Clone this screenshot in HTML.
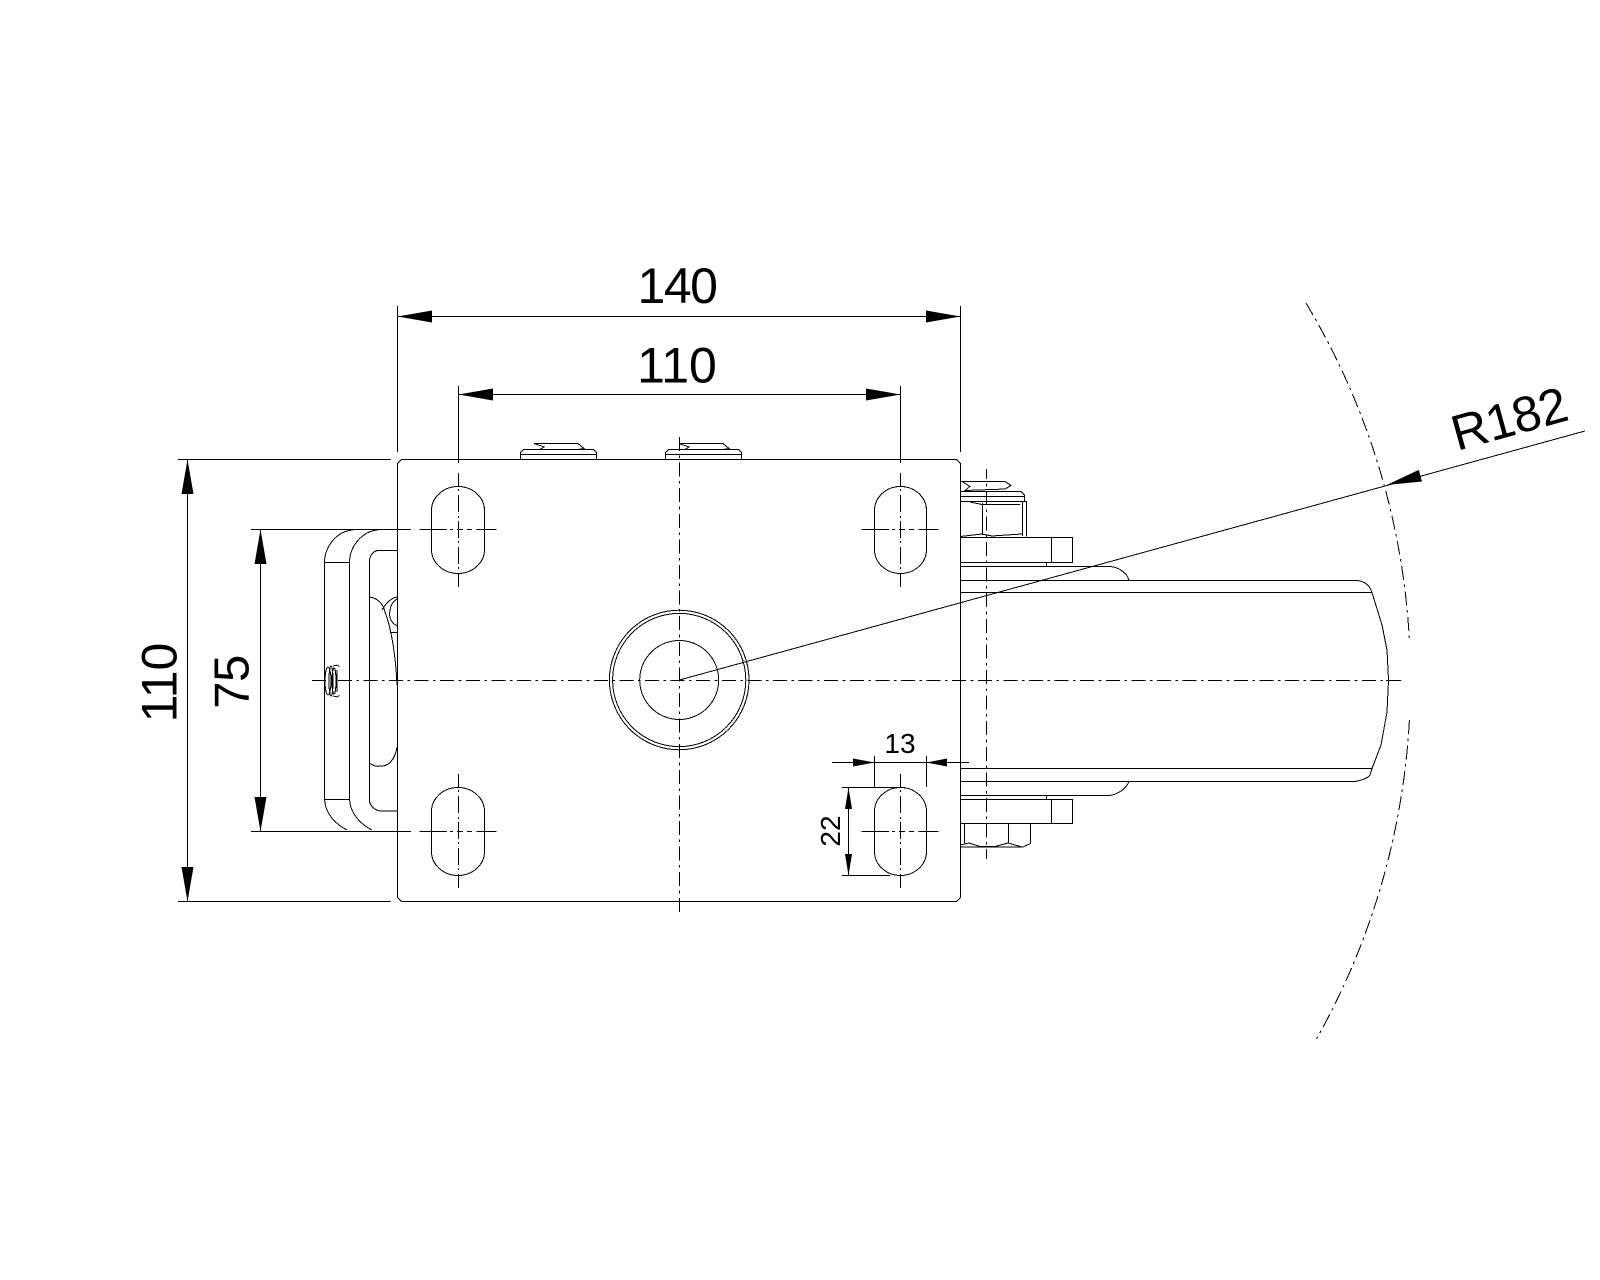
<!DOCTYPE html>
<html><head><meta charset="utf-8"><style>
html,body{margin:0;padding:0;background:#fff;width:1600px;height:1280px;overflow:hidden}
svg{display:block}
text{font-family:"Liberation Sans",sans-serif;fill:#000}
.l{fill:none;stroke:#000;stroke-width:1;shape-rendering:crispEdges}
.c{stroke-dasharray:14 4.5 2.6 4.5}
.sv{stroke-dasharray:13 3 2 4 17 4 2 3 17 3 2 4 17 3 2 4 14}
.sh{stroke-dasharray:27.4 3.3 3 3.7 6.3 3.7 5 4.7 20}
.a{fill:#000;stroke:none}
</style></head><body>
<svg width="1600" height="1280" viewBox="0 0 1600 1280" xmlns="http://www.w3.org/2000/svg">
<rect width="1600" height="1280" fill="#fff"/>
<g class="l">
<!-- plate -->
<path d="M401.5 459.5H956.5L960.5 463.5V897.5L956.5 901.5H401.5L397.5 897.5V463.5Z"/>
<!-- slots -->
<rect x="431.5" y="486.5" width="53" height="87" rx="26.5" ry="24"/>
<rect x="874.5" y="486.5" width="52" height="87" rx="26" ry="24"/>
<rect x="431.5" y="787.5" width="53" height="88" rx="26.5" ry="24"/>
<rect x="874.5" y="787.5" width="52" height="88" rx="26" ry="24"/>
<!-- hub -->
<circle cx="679.2" cy="680" r="69.8"/>
<circle cx="679.2" cy="680" r="66.6"/>
<circle cx="679.2" cy="680" r="39.5"/>
<!-- top bolts -->
<path d="M520.5 459.5V452.5L523.5 449.5H593.5L596.5 452.5V459.5M520.5 454.5H596.5"/>
<path d="M534 443.5H578L584 448.5L578 449.5H540L544 447Z"/>
<path d="M665.5 459.5V452.5L668.5 449.5H738.5L741.5 452.5V459.5M665.5 454.5H741.5"/>
<path d="M679 443.5H723L729 448.5L723 449.5H685L689 447Z"/>
<!-- right upper hardware -->
<path d="M962 481.5H1005L1011 485.5L1005 489L965 490.5L970 486.5Z"/>
<path d="M960.5 491.5H1021L1024.5 495V501.5M960.5 496.5H1024.5M960.5 501.5H1026.5V536.5M982.5 503V535M1022.5 502V536M970 502L982 504.5H1020M960.5 536.5L982 534L992 536L1022 534"/>
<path d="M960.5 537.5H1072.5V562.5H960.5M1051.5 537.5V562.5"/>
<path d="M960.5 566.5H1111C1120 568 1127 573 1129 580.5M1046.5 562.5V566.5"/>
<!-- wheel -->
<path d="M960.5 580.5H1357C1365 581 1370 586 1372 592.5M960.5 592.5H1372L1382 625L1387 650L1388.5 680L1387 712L1381 745L1372 768.5H960.5M960.5 781.5H1355C1364 780 1369 777 1370 775L1372 768.5"/>
<!-- right lower hardware -->
<path d="M960.5 795.5H1110C1118 794 1126 789 1129 781.5M1046.5 795.5V799.5"/>
<path d="M960.5 799.5H1072.5V823.5H960.5M1051.5 799.5V823.5"/>
<path d="M964.5 823.5V843M1008.5 823.5V843M1030.5 823.5V843.5L1023 847H960.5M960.5 845L969 843L980 846.5H995L1008 843L1022 847"/>
<!-- left bracket -->
<path d="M353 530C337 531 325 546 324.5 562V799C325 813 335 824 347 830M378 530C362 531 350 546 349.5 562V799C350 813 360 824 372 830M324.5 562.5H349.5M324.5 799.5H349.5"/>
<path d="M397.5 550.5H378C373 551 369.5 556 369.5 561V800C369.5 806 375 811 382 811H397.5"/>
<path d="M369.5 597C377 598 383 603 385 612C392 630 396 660 397 685M397 747C395 760 388 767 380 766C376 767 372 765 369.5 763"/>
<path d="M397 597C390 598 385 605 382 610M397 599C390 603 389 612 390 618C391 621 394 625 398 626M390 632.5H397"/>
<ellipse cx="328" cy="681" rx="3" ry="14"/>
<ellipse cx="331" cy="681" rx="2" ry="15"/>
<ellipse cx="334" cy="681" rx="2" ry="13"/>
<path d="M333 666Q339 664 339 667M333 696Q339 698 339 695M337 670V692"/>
<!-- dimension lines -->
<path d="M397.5 306V452M960.5 306V452M397.5 316.5H960.5"/>
<path d="M458.5 386V463M900.5 386V463M458.5 394.5H900.5"/>
<path d="M178 459.5H391M178 901.5H391M187.5 459.5V901.5"/>
<path d="M251 529.5H411M251 831.5H411M260.5 529.5V831.5"/>
<path d="M832 762.5H969M874.5 756V787M926.5 756V787"/>
<path d="M842 787.5H905M842 875.5H890M848.5 787.5V875.5"/>
<path d="M679.5 680L1585 431"/>
<!-- centre lines -->
<path class="c" d="M312.2 680.5H1385"/>
<path d="M1386 680.5H1401"/>
<path class="c" d="M679.5 437V913"/>
<path class="c" stroke-dashoffset="3.8" d="M986.5 469V859"/>
<path class="sh" d="M419.5 529.5H497"/>
<path class="sh" d="M861.5 529.5H939"/>
<path class="sh" d="M419.5 831.5H497"/>
<path class="sh" d="M861.5 831.5H939"/>
<path class="sv" d="M458.5 473V587"/>
<path class="sv" d="M900.5 473V587"/>
<path class="sv" d="M458.5 774V888"/>
<path class="sv" d="M900.5 774V888"/>
<!-- radius arc -->
<path class="c" d="M1306 303A731 731 0 0 1 1409.4 640"/>
<path class="c" d="M1409.4 720A731 731 0 0 1 1316.5 1039"/>
</g>
<!-- arrowheads -->
<polygon class="a" points="397.5,316.5 432,310.5 432,322.5"/>
<polygon class="a" points="960.5,316.5 926,310.5 926,322.5"/>
<polygon class="a" points="458.5,394.5 493,388.5 493,400.5"/>
<polygon class="a" points="900.5,394.5 866,388.5 866,400.5"/>
<polygon class="a" points="187.5,459.5 181.5,494 193.5,494"/>
<polygon class="a" points="187.5,901.5 181.5,867 193.5,867"/>
<polygon class="a" points="260.5,529.5 254.5,564 266.5,564"/>
<polygon class="a" points="260.5,831.5 254.5,797 266.5,797"/>
<polygon class="a" points="874.5,762.5 853,758.5 853,766.5"/>
<polygon class="a" points="926.5,762.5 947,758.5 947,766.5"/>
<polygon class="a" points="848.5,787.5 845,809 852,809"/>
<polygon class="a" points="848.5,875.5 845,854 852,854"/>
<polygon class="a" points="1386.7,485 1422,481.5 1418.8,469.9"/>
<!-- labels -->
<text x="677" y="303" font-size="50" text-anchor="middle" letter-spacing="-1.5">140</text>
<text x="677" y="382.5" font-size="50" text-anchor="middle">110</text>
<text transform="translate(176.5 682.5) rotate(-90)" font-size="50" text-anchor="middle">110</text>
<text transform="translate(248.5 682) rotate(-90)" font-size="49" text-anchor="middle" letter-spacing="-0.5">75</text>
<text x="900" y="753" font-size="28" text-anchor="middle">13</text>
<text transform="translate(840 831) rotate(-90)" font-size="28" text-anchor="middle">22</text>
<text transform="translate(1457 451) rotate(-15.5)" font-size="50" letter-spacing="-0.5">R182</text>
</svg>
</body></html>
